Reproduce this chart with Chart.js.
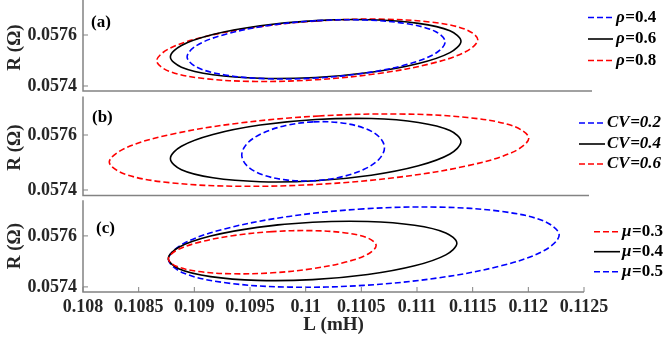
<!DOCTYPE html>
<html>
<head>
<meta charset="utf-8">
<script src="https://cdn.jsdelivr.net/npm/chart.js@4.4.1/dist/chart.umd.min.js"></script>
<style>
  html, body { margin: 0; padding: 0; background: #fff; }
  #wrap { width: 667px; height: 340px; position: relative; }
</style>
</head>
<body>
<div id="wrap"><canvas id="EllipseChart" width="667" height="340"></canvas></div>
<script>
// axis ticks
const xTicks = [0.108, 0.1085, 0.109, 0.1095, 0.11, 0.1105, 0.111, 0.1115, 0.112, 0.1125];
const xTickLabels = ['0.108', '0.1085', '0.109', '0.1095', '0.11', '0.1105', '0.111', '0.1115', '0.112', '0.1125'];
const yTicks = [0.0574, 0.0576];
const yTickLabels = ['0.0574', '0.0576'];

// legend values
const rhoVals = ['0.4', '0.6', '0.8'];
const cvVals = ['0.2', '0.4', '0.6'];
const muVals = ['0.3', '0.4', '0.5'];

// contour points, L (mH) / R (ohm)
// baseline (rho=0.6, CV=0.4)
const baseL = [0.110090, 0.109591, 0.109167, 0.108884, 0.108785, 0.108884, 0.109167, 0.109591, 0.110090, 0.110589, 0.111013, 0.111296, 0.111395, 0.111296, 0.111013, 0.110589];
const baseR = [0.0576564, 0.0576361, 0.0576018, 0.0575590, 0.0575140, 0.0574737, 0.0574443, 0.0574302, 0.0574336, 0.0574539, 0.0574882, 0.0575310, 0.0575760, 0.0576163, 0.0576457, 0.0576598];

// (a)
const rho04L = [0.110094, 0.109651, 0.109275, 0.109023, 0.108935, 0.109023, 0.109275, 0.109651, 0.110094, 0.110538, 0.110914, 0.111165, 0.111253, 0.111165, 0.110914, 0.110538];
const rho04R = [0.0576560, 0.0576362, 0.0576023, 0.0575595, 0.0575142, 0.0574734, 0.0574433, 0.0574285, 0.0574312, 0.0574510, 0.0574849, 0.0575277, 0.0575730, 0.0576138, 0.0576439, 0.0576587];
const rho08L = [0.110104, 0.109552, 0.109084, 0.108772, 0.108662, 0.108772, 0.109084, 0.109552, 0.110104, 0.110656, 0.111124, 0.111436, 0.111546, 0.111436, 0.111124, 0.110656];
const rho08R = [0.0576552, 0.0576307, 0.0575923, 0.0575460, 0.0574988, 0.0574579, 0.0574294, 0.0574178, 0.0574248, 0.0574493, 0.0574877, 0.0575340, 0.0575812, 0.0576222, 0.0576506, 0.0576622];

// (b)
const cv02L = [0.110067, 0.109822, 0.109614, 0.109475, 0.109426, 0.109475, 0.109614, 0.109822, 0.110067, 0.110312, 0.110520, 0.110659, 0.110708, 0.110659, 0.110520, 0.110312];
const cv02R = [0.0576476, 0.0576344, 0.0576069, 0.0575693, 0.0575273, 0.0574874, 0.0574555, 0.0574367, 0.0574336, 0.0574468, 0.0574743, 0.0575119, 0.0575539, 0.0575938, 0.0576257, 0.0576446];
const cv06L = [0.110120, 0.109399, 0.108788, 0.108379, 0.108236, 0.108379, 0.108788, 0.109399, 0.110120, 0.110841, 0.111452, 0.111861, 0.112004, 0.111861, 0.111452, 0.110841];
const cv06R = [0.0576692, 0.0576431, 0.0576020, 0.0575522, 0.0575014, 0.0574572, 0.0574263, 0.0574136, 0.0574208, 0.0574469, 0.0574880, 0.0575377, 0.0575886, 0.0576328, 0.0576636, 0.0576764];

// (c)
const mu03L = [0.109700, 0.109343, 0.109040, 0.108838, 0.108767, 0.108838, 0.109040, 0.109343, 0.109700, 0.110057, 0.110360, 0.110562, 0.110633, 0.110562, 0.110360, 0.110057];
const mu03R = [0.0576168, 0.0576007, 0.0575747, 0.0575428, 0.0575099, 0.0574810, 0.0574604, 0.0574514, 0.0574552, 0.0574713, 0.0574973, 0.0575292, 0.0575621, 0.0575910, 0.0576116, 0.0576206];
const mu04L = [0.110062, 0.109566, 0.109146, 0.108865, 0.108766, 0.108865, 0.109146, 0.109566, 0.110062, 0.110558, 0.110978, 0.111259, 0.111358, 0.111259, 0.110978, 0.110558];
const mu04R = [0.0576535, 0.0576335, 0.0575993, 0.0575563, 0.0575110, 0.0574702, 0.0574402, 0.0574256, 0.0574285, 0.0574485, 0.0574827, 0.0575257, 0.0575710, 0.0576118, 0.0576418, 0.0576564];
const mu05L = [0.110522, 0.109850, 0.109281, 0.108901, 0.108767, 0.108901, 0.109281, 0.109850, 0.110522, 0.111194, 0.111763, 0.112143, 0.112277, 0.112143, 0.111763, 0.111194];
const mu05R = [0.0577060, 0.0576764, 0.0576284, 0.0575694, 0.0575084, 0.0574546, 0.0574163, 0.0573992, 0.0574060, 0.0574356, 0.0574836, 0.0575426, 0.0576036, 0.0576574, 0.0576957, 0.0577128];

const BLUE = '#0000ff', RED = '#ff0000', BLACK = '#000000';
const DASH = [6, 3];
const axisGray = '#838383';
const textGray = '#262626';
const FONT = '"Liberation Serif", "Times New Roman", serif';

// panel frame (axis limits of every subplot)
const frameMin = 0.05738, frameMax = 0.05774;

const panels = [
  { axis: 'ya', range: [0.0573647, 0.0577373], weight: 95, tag: '(a)', tagPos: [91, 23],
    sym: 'ρ', vals: rhoVals, slantAll: false, frameRight: 592,
    curves: [[rho04L, rho04R, BLUE, DASH], [baseL, baseR, BLACK, []], [rho08L, rho08R, RED, DASH]],
    legend: { x0: 588, x1: 613, tx: 616, rows: [17.5, 39, 60.5] } },
  { axis: 'yb', range: [0.0573629, 0.0577455], weight: 105.2, tag: '(b)', tagPos: [92, 23],
    sym: 'CV', vals: cvVals, slantAll: true, frameRight: 589,
    curves: [[cv02L, cv02R, BLUE, DASH], [baseL, baseR, BLACK, []], [cv06L, cv06R, RED, DASH]],
    legend: { x0: 579, x1: 605, tx: 607, rows: [28, 49, 69] } },
  { axis: 'yc', range: [0.05738, 0.05774], weight: 91.8, tag: '(c)', tagPos: [96, 28],
    sym: 'μ', vals: muVals, slantAll: false, frameRight: 584,
    curves: [[mu03L, mu03R, RED, DASH], [mu04L, mu04R, BLACK, []], [mu05L, mu05R, BLUE, DASH]],
    legend: { x0: 594, x1: 620, tx: 622, rows: [31.5, 51.5, 71.5] } }
];

let datasets = [];
panels.forEach(p => {
  p.curves.forEach((c, i) => {
    datasets.push({
      label: p.sym + '=' + p.vals[i],
      data: c[0].map((l, k) => ({ x: l, y: c[1][k] })),
      yAxisID: p.axis,
      borderColor: c[2],
      borderDash: c[3],
      borderWidth: 1.6,
      tension: 0.35,
      pointRadius: 0,
      pointHoverRadius: 0,
      fill: false
    });
  });
});

function yAxis(p) {
  return {
    type: 'linear',
    position: 'left',
    stack: 'R',
    stackWeight: p.weight,
    min: p.range[0],
    max: p.range[1],
    afterBuildTicks: s => { s.ticks = yTicks.map(v => ({ value: v })); },
    afterFit: s => { s.width = 83; s.paddingTop = 0; s.paddingBottom = 0; },
    grid: { display: false, drawTicks: false },
    border: { display: false },
    ticks: {
      padding: 6,
      autoSkip: false,
      color: textGray,
      font: { family: FONT, size: 18, weight: 'bold' },
      callback: (v, i) => yTickLabels[i]
    },
    title: {
      display: true,
      text: 'R (Ω)',
      color: textGray,
      padding: { top: 4, bottom: 0 },
      font: { family: FONT, size: 19, weight: 'bold' }
    }
  };
}

// close each contour and draw frames, ticks, tags, legends
const closeLoop = {
  id: 'closeLoop',
  afterDatasetUpdate(chart, args) {
    const line = args.meta.dataset;
    if (line) { line._loop = true; line._fullLoop = true; }
  }
};

const panelDecor = {
  id: 'panelDecor',
  afterDraw(chart) {
    const ctx = chart.ctx;
    const area = chart.chartArea;
    const xs = chart.scales.x;
    ctx.save();
    panels.forEach((p, pi) => {
      const ys = chart.scales[p.axis];
      const top = Math.max(ys.getPixelForValue(frameMax), 0);
      const bot = ys.getPixelForValue(frameMin);
      ctx.strokeStyle = axisGray;
      ctx.setLineDash([]);
      ctx.lineWidth = 1.5;
      ctx.beginPath();
      ctx.moveTo(area.left, top);
      ctx.lineTo(area.left, bot);
      ctx.lineTo(p.frameRight, bot);
      ctx.stroke();
      ctx.lineWidth = 1;
      ctx.beginPath();
      yTicks.forEach(v => {
        const py = ys.getPixelForValue(v);
        ctx.moveTo(area.left, py);
        ctx.lineTo(area.left + 5, py);
      });
      if (pi == panels.length - 1) {
        xTicks.forEach(v => {
          const px = xs.getPixelForValue(v);
          ctx.moveTo(px, bot);
          ctx.lineTo(px, bot - 5);
        });
      }
      ctx.stroke();

      // panel tag
      ctx.fillStyle = BLACK;
      ctx.textBaseline = 'middle';
      ctx.textAlign = 'left';
      ctx.font = 'bold 17px ' + FONT;
      ctx.fillText(p.tag, p.tagPos[0], ys.top + p.tagPos[1]);

      // legend
      const lg = p.legend;
      p.curves.forEach((c, i) => {
        const y = ys.top + lg.rows[i];
        ctx.strokeStyle = c[2];
        ctx.lineWidth = 1.6;
        ctx.setLineDash(c[3]);
        ctx.beginPath();
        ctx.moveTo(lg.x0, y);
        ctx.lineTo(lg.x1, y);
        ctx.stroke();
        ctx.setLineDash([]);
        ctx.fillStyle = BLACK;
        ctx.font = 'italic bold 17px ' + FONT;
        ctx.fillText(p.sym, lg.tx, y);
        const w = ctx.measureText(p.sym).width;
        ctx.font = (p.slantAll ? 'italic ' : '') + 'bold 17px ' + FONT;
        ctx.fillText('=' + p.vals[i], lg.tx + w + 0.5, y);
      });
    });
    ctx.restore();
  }
};

new Chart(document.getElementById('EllipseChart'), {
  type: 'line',
  data: { datasets: datasets },
  options: {
    responsive: false,
    animation: false,
    events: [],
    layout: { padding: { left: 0, right: 83, top: 0, bottom: 0 } },
    plugins: { legend: { display: false }, tooltip: { enabled: false } },
    scales: {
      x: {
        type: 'linear',
        position: 'bottom',
        min: xTicks[0],
        max: xTicks[xTicks.length - 1],
        afterBuildTicks: s => { s.ticks = xTicks.map(v => ({ value: v })); },
        afterFit: s => { s.height = 48; s.paddingLeft = 0; s.paddingRight = 0; },
        grid: { display: false, drawTicks: false },
        border: { display: false },
        ticks: {
          padding: 5,
          autoSkip: false,
          maxRotation: 0,
          color: textGray,
          font: { family: FONT, size: 18, weight: 'bold' },
          callback: (v, i) => xTickLabels[i]
        },
        title: {
          display: true,
          text: 'L (mH)',
          color: textGray,
          padding: { top: 0, bottom: 4 },
          font: { family: FONT, size: 19, weight: 'bold' }
        }
      },
      // stacked axes are laid out bottom-up in listing order
      yc: yAxis(panels[2]),
      yb: yAxis(panels[1]),
      ya: yAxis(panels[0])
    }
  },
  plugins: [closeLoop, panelDecor]
});
</script>
</body>
</html>
